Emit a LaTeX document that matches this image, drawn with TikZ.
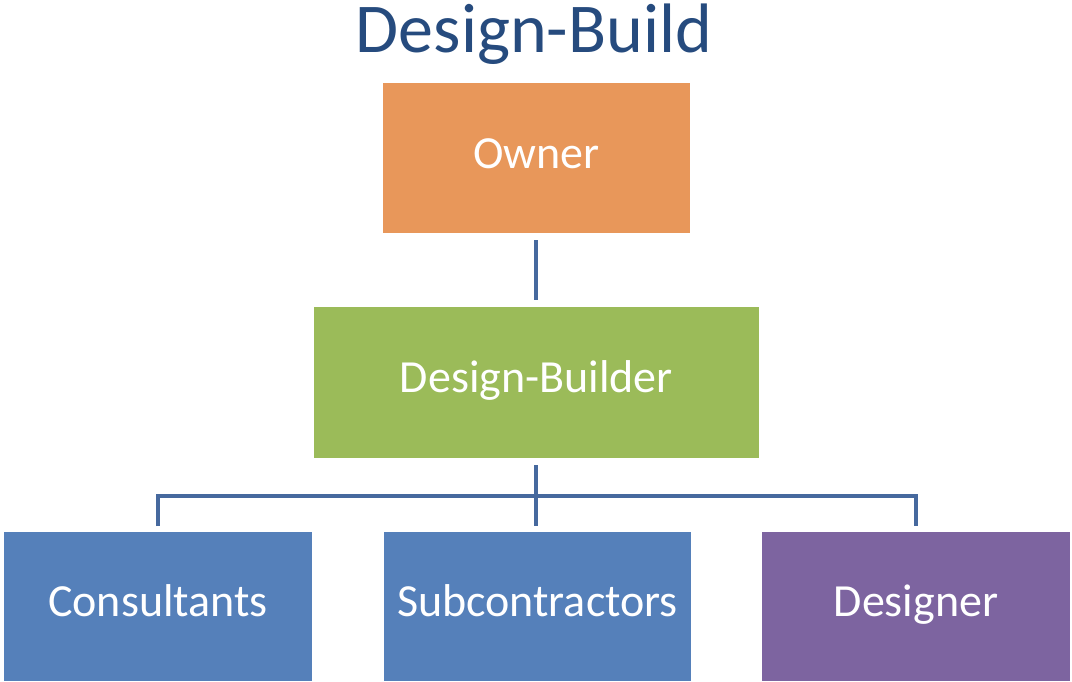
\documentclass[tikz,border=0pt]{standalone}
\usepackage{fontspec}
\setmainfont{Carlito}
\definecolor{titleblue}{HTML}{264B7E}
\definecolor{ownerorange}{HTML}{E8975A}
\definecolor{dbgreen}{HTML}{9BBB59}
\definecolor{subblue}{HTML}{5580BA}
\definecolor{desviolet}{HTML}{7D64A0}
\definecolor{linkblue}{HTML}{46699E}
\tikzset{
  orgbox/.style={rectangle, draw=none, text=white, inner sep=0pt,
    font=\fontsize{46}{50}\selectfont, text height=34.5pt, text depth=13.8pt},
  link/.style={draw=linkblue, line width=4pt}
}
\begin{document}
\begin{tikzpicture}[x=1pt,y=-1pt]
\useasboundingbox[fill=white] (0,0) rectangle (1072,681);
\node[text=titleblue, font=\fontsize{70}{74}\selectfont, anchor=base, inner sep=0pt] (title) at (534,52) {Design-Build};
\node[orgbox, fill=ownerorange, minimum width=307pt, minimum height=150pt] (owner) at (536.5,158) {Owner};
\node[orgbox, fill=dbgreen, minimum width=445pt, minimum height=151pt] (db) at (536.5,382.5) {Design-Builder};
\node[orgbox, fill=subblue, minimum width=308pt, minimum height=149pt] (cons) at (158,606.5) {Consultants};
\node[orgbox, fill=subblue, minimum width=307pt, minimum height=149pt] (sub) at (537.5,606.5) {Subcontractors};
\node[orgbox, fill=desviolet, minimum width=308pt, minimum height=149pt] (des) at (916,606.5) {Designer};
\coordinate (bar) at (536,496);
\coordinate (consdrop) at (158,526);
\coordinate (desdrop) at (916,526);
\draw[link, shorten <=7pt, shorten >=7pt] (owner.south -| bar) -- (db.north -| bar);
\draw[link, shorten <=7pt, shorten >=6pt] (db.south -| bar) -- (sub.north -| bar);
\draw[link, line join=miter] (consdrop) -- (consdrop |- bar) -- (desdrop |- bar) -- (desdrop);
\end{tikzpicture}
\end{document}
